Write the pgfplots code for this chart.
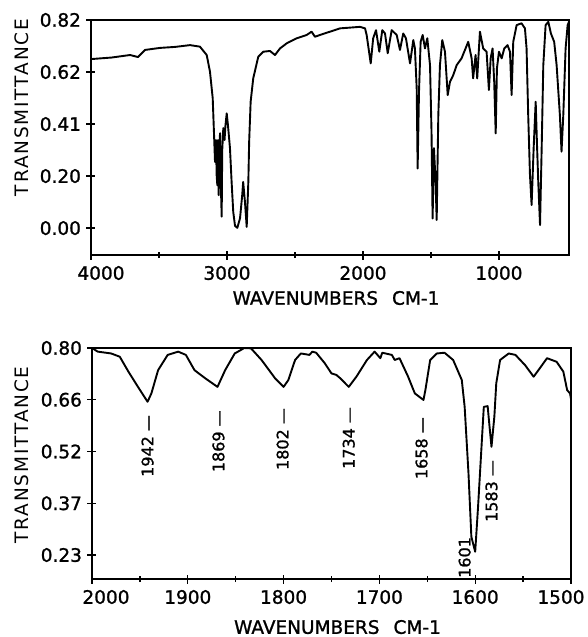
\documentclass[border=0pt]{standalone}
\usepackage{fontspec}
\setmainfont{DejaVu Sans}[FakeBold=1.2]
\newfontfamily\lsfont[LetterSpace=10]{DejaVu Sans}
\usepackage{pgfplots}
\pgfplotsset{compat=1.18}

\pgfplotstableread{
wn T
4000 0.666
3850 0.672
3713 0.682
3654 0.674
3603 0.702
3493 0.710
3380 0.714
3272 0.721
3199 0.715
3149 0.682
3125 0.616
3105 0.512
3096 0.380
3088 0.261
3081 0.347
3076 0.209
3071 0.169
3066 0.347
3061 0.130
3057 0.307
3051 0.374
3046 0.189
3039 0.045
3035 0.307
3027 0.394
3018 0.347
3011 0.406
3002 0.452
2993 0.406
2978 0.315
2966 0.182
2954 0.064
2941 0.009
2924 0.001
2904 0.039
2888 0.130
2881 0.182
2868 0.104
2855 0.005
2843 0.182
2837 0.340
2826 0.498
2807 0.590
2770 0.675
2733 0.695
2684 0.698
2647 0.682
2610 0.708
2561 0.728
2487 0.748
2414 0.761
2378 0.774
2353 0.754
2316 0.761
2169 0.787
2022 0.793
1985 0.787
1973 0.761
1943 0.649
1925 0.748
1904 0.780
1880 0.695
1858 0.780
1838 0.767
1818 0.689
1789 0.780
1752 0.761
1728 0.702
1704 0.767
1684 0.748
1654 0.649
1630 0.741
1618 0.708
1605 0.551
1598 0.235
1588 0.537
1576 0.734
1561 0.761
1544 0.708
1527 0.748
1507 0.642
1496 0.380
1488 0.038
1478 0.315
1466 0.182
1458 0.032
1446 0.445
1434 0.642
1417 0.741
1397 0.695
1377 0.524
1360 0.577
1336 0.603
1311 0.642
1275 0.669
1226 0.734
1201 0.669
1190 0.590
1172 0.682
1160 0.590
1140 0.774
1116 0.708
1091 0.695
1074 0.544
1061 0.669
1047 0.708
1035 0.577
1024 0.373
1015 0.629
1000 0.695
980 0.669
961 0.708
937 0.721
919 0.695
907 0.524
895 0.734
870 0.800
834 0.807
809 0.787
797 0.708
785 0.445
772 0.209
760 0.091
745 0.314
730 0.498
721 0.340
711 0.182
698 0.012
686 0.314
674 0.642
657 0.800
637 0.813
618 0.767
594 0.734
576 0.642
552 0.445
540 0.301
527 0.445
510 0.708
495 0.800
485 0.813
}\toptable

\pgfplotstableread{
wn T
2000 0.800
1994 0.790
1980 0.785
1971 0.776
1962 0.735
1952 0.693
1942 0.652
1938 0.675
1931 0.739
1921 0.781
1910 0.790
1902 0.781
1893 0.739
1882 0.717
1869 0.693
1861 0.739
1851 0.785
1841 0.800
1834 0.799
1823 0.767
1809 0.717
1800 0.693
1795 0.712
1788 0.767
1782 0.785
1773 0.781
1770 0.790
1766 0.787
1757 0.758
1750 0.730
1745 0.726
1741 0.717
1732 0.693
1724 0.721
1713 0.767
1705 0.790
1699 0.772
1697 0.787
1687 0.781
1684 0.767
1679 0.772
1670 0.721
1663 0.675
1654 0.657
1652 0.684
1647 0.767
1640 0.785
1632 0.787
1623 0.767
1614 0.712
1611 0.638
1607 0.455
1604 0.280
1600 0.239
1597 0.363
1593 0.547
1591 0.638
1587 0.640
1585 0.583
1583 0.528
1580 0.611
1578 0.703
1574 0.767
1565 0.785
1558 0.781
1548 0.753
1539 0.721
1534 0.739
1525 0.772
1515 0.762
1508 0.735
1504 0.684
1501 0.675
1500 0.660
}\bottable

\pgfplotsset{
  irax/.style={
    scale only axis,
    x dir=reverse,
    axis line style={line width=1.5pt},
    every tick/.style={line width=1.3pt, black},
    tick align=center,
    major tick length=9pt,
    minor tick length=6pt,
    xtick pos=left, ytick pos=left,
    font=\fontsize{18.5}{21}\selectfont,
    /pgf/number format/assume math mode=true,
    yticklabel style={xshift=-2pt},
    xticklabel style={yshift=-3pt},
    ylabel style={anchor=center, inner sep=0pt},
    xlabel style={anchor=center, inner sep=0pt},
  }
}

\begin{document}
\begin{tikzpicture}
\useasboundingbox (0pt,0pt) rectangle (588pt,-637pt);

\begin{axis}[irax,
  at={(91pt,-255pt)}, anchor=south west,
  width=478pt, height=235pt,
  xmin=485, xmax=4000, ymin=-0.106, ymax=0.82,
  xtick={1000,2000,3000,4000},
  xticklabels={1000,2000,3000,{\hspace*{20pt}4000}},
  minor xtick={1500,2500,3500},
  ytick={0,0.205,0.41,0.615,0.82},
  yticklabels={0.00,0.20,0.41,0.62,0.82},
  ylabel={\lsfont TRANSMITTANCE},
  ylabel style={at={(axis description cs:-0.144,0.628)}},
  xlabel={WAVENUMBERS\hspace{14pt}CM-1},
  xlabel style={at={(axis description cs:0.5126,-0.183)}},
]
\addplot[black, line width=1.9pt, line join=round] table[x=wn,y=T]{\toptable};
\end{axis}

\begin{axis}[irax,
  at={(92pt,-579pt)}, anchor=south west,
  width=479pt, height=231pt,
  xmin=1500, xmax=2000, ymin=0.164, ymax=0.80,
  xtick={1500,1600,1700,1800,1900,2000},
  xticklabels={{1500\hspace*{20pt}},1600,1700,1800,1900,{\hspace*{28pt}2000}},
  minor xtick={1550,1650,1750,1850,1950},
  ytick={0.23,0.3725,0.515,0.6575,0.80},
  yticklabels={0.23,0.37,0.52,0.66,0.80},
  ylabel={\lsfont TRANSMITTANCE},
  ylabel style={at={(axis description cs:-0.1468,0.537)}},
  xlabel={WAVENUMBERS\hspace{14pt}CM-1},
  xlabel style={at={(axis description cs:0.5125,-0.208)}},
]
\addplot[black, line width=1.9pt, line join=round] table[x=wn,y=T]{\bottable};
\begin{scope}[every node/.style={rotate=90, anchor=east, inner sep=0pt, font=\fontsize{16}{18}\selectfont}]
\node at (axis cs:1942,0.616) {1942 —};
\node at (axis cs:1868,0.629) {1869 —};
\node at (axis cs:1801,0.635) {1802 —};
\node at (axis cs:1732,0.638) {1734 —};
\node at (axis cs:1656,0.610) {1658 —};
\node at (axis cs:1583,0.492) {1583 —};
\node at (axis cs:1611,0.280) {1601};
\end{scope}
\end{axis}
\end{tikzpicture}
\end{document}
